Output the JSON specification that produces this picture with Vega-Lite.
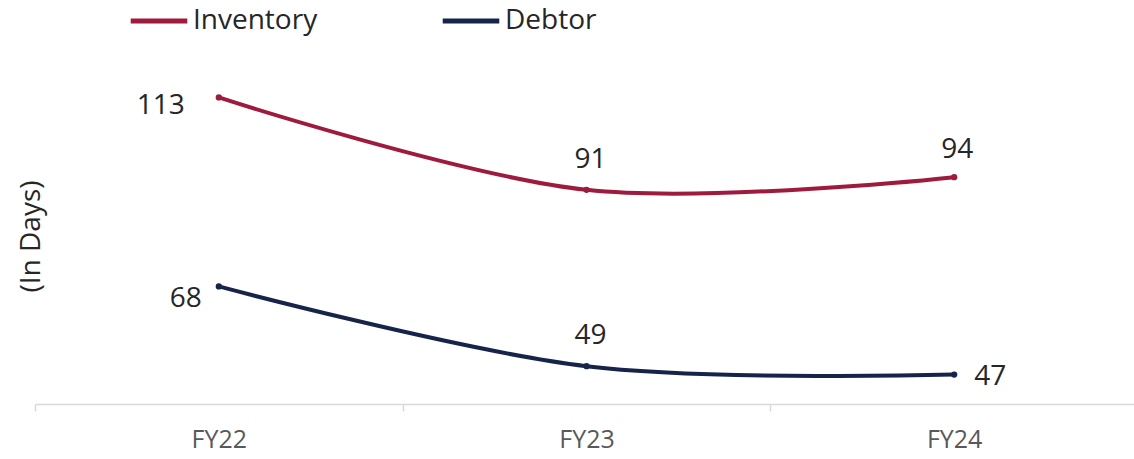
{
  "$schema": "https://vega.github.io/schema/vega-lite/v6.json",
  "autosize": "none",
  "width": 1103,
  "height": 336,
  "padding": {"left": 35, "top": 68, "right": 0, "bottom": 55},
  "background": "white",
  "config": {
    "view": {"stroke": null},
    "font": "Open Sans"
  },
  "data": {
    "values": [
      {"year": "FY22", "series": "Inventory", "days": 113},
      {"year": "FY23", "series": "Inventory", "days": 91},
      {"year": "FY24", "series": "Inventory", "days": 94},
      {"year": "FY22", "series": "Debtor", "days": 68},
      {"year": "FY23", "series": "Debtor", "days": 49},
      {"year": "FY24", "series": "Debtor", "days": 47}
    ]
  },
  "encoding": {
    "x": {
      "field": "year",
      "type": "nominal",
      "sort": ["FY22", "FY23", "FY24"],
      "scale": {"type": "band", "paddingInner": 0, "paddingOuter": 0},
      "axis": {
        "title": null,
        "labelAngle": 0,
        "labelFontSize": 25,
        "labelColor": "#595959",
        "labelPadding": 16,
        "tickBand": "extent",
        "tickColor": "#d9d9d9",
        "tickSize": 7,
        "tickWidth": 1.5,
        "domainColor": "#d9d9d9",
        "domainWidth": 1.5
      }
    },
    "y": {
      "field": "days",
      "type": "quantitative",
      "scale": {"domain": [40, 120], "nice": false, "zero": false},
      "axis": {
        "title": "(In Days)",
        "titleFontSize": 28,
        "titleFontWeight": "normal",
        "titleColor": "#262626",
        "titleAngle": -90,
        "titleX": 10,
        "titleY": 168,
        "titleBaseline": "bottom",
        "labels": false,
        "ticks": false,
        "domain": false,
        "grid": false
      }
    },
    "color": {
      "field": "series",
      "type": "nominal",
      "scale": {"domain": ["Inventory", "Debtor"], "range": ["#9e1b3e", "#16244a"]},
      "legend": {
        "title": null,
        "orient": "none",
        "direction": "horizontal",
        "padding": 0,
        "legendX": 93,
        "legendY": -78,
        "symbolType": "stroke",
        "symbolSize": 3200,
        "symbolStrokeWidth": 5,
        "labelFontSize": 28,
        "labelColor": "#262626",
        "labelOffset": 3,
        "columnPadding": 114,
        "symbolOffset": 0
      }
    }
  },
  "layer": [
    {
      "mark": {"type": "line", "interpolate": "cardinal", "strokeWidth": 4, "strokeCap": "round"}
    },
    {
      "mark": {"type": "point", "filled": true, "size": 40, "opacity": 1},
      "encoding": {"color": {"field": "series", "type": "nominal", "legend": null}}
    },
    {
      "transform": [{"filter": "datum.year == 'FY22' && datum.series == 'Inventory'"}],
      "mark": {"type": "text", "align": "right", "baseline": "middle", "dx": -34, "dy": 9, "fontSize": 28},
      "encoding": {"text": {"field": "days", "type": "quantitative"}, "color": {"value": "#262626"}}
    },
    {
      "transform": [{"filter": "datum.year == 'FY22' && datum.series == 'Debtor'"}],
      "mark": {"type": "text", "align": "right", "baseline": "middle", "dx": -17, "dy": 13, "fontSize": 28},
      "encoding": {"text": {"field": "days", "type": "quantitative"}, "color": {"value": "#262626"}}
    },
    {
      "transform": [{"filter": "datum.year == 'FY23'"}],
      "mark": {"type": "text", "align": "center", "baseline": "middle", "dx": 4, "dy": -30, "fontSize": 28},
      "encoding": {"text": {"field": "days", "type": "quantitative"}, "color": {"value": "#262626"}}
    },
    {
      "transform": [{"filter": "datum.year == 'FY24' && datum.series == 'Inventory'"}],
      "mark": {"type": "text", "align": "center", "baseline": "middle", "dx": 3, "dy": -27, "fontSize": 28},
      "encoding": {"text": {"field": "days", "type": "quantitative"}, "color": {"value": "#262626"}}
    },
    {
      "transform": [{"filter": "datum.year == 'FY24' && datum.series == 'Debtor'"}],
      "mark": {"type": "text", "align": "left", "baseline": "middle", "dx": 20, "dy": 2, "fontSize": 28},
      "encoding": {"text": {"field": "days", "type": "quantitative"}, "color": {"value": "#262626"}}
    }
  ]
}
